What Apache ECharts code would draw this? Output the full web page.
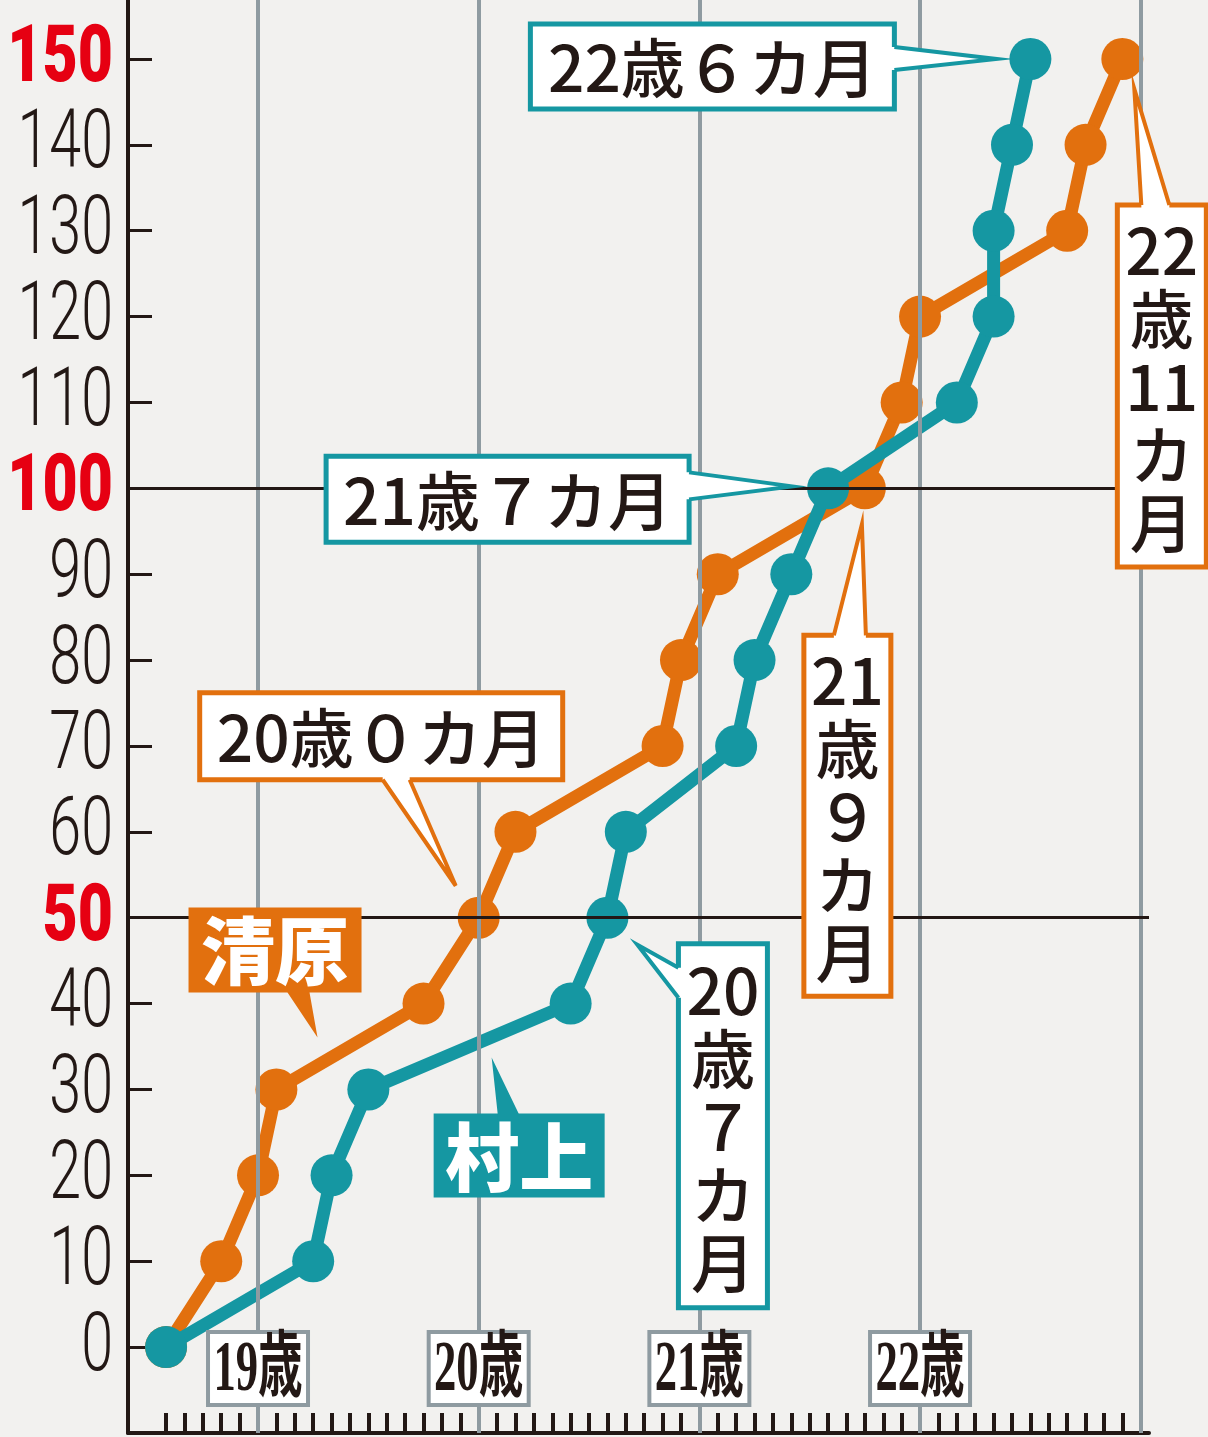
<!DOCTYPE html>
<html>
<head>
<meta charset="utf-8">
<script src="https://cdn.jsdelivr.net/npm/echarts@6/dist/echarts.min.js"></script>
<style>
html,body{margin:0;padding:0;background:#f2f1ef;}
#c{width:1208px;height:1437px;}
</style>
</head>
<body>
<div id="c"></div>
<script>
// ---- data (x = age in months, y = career home runs) ----
const kiyoharaMonths = [223, 226, 228, 229, 237, 240, 242, 250, 251, 253, 261, 263, 264, 272, 273, 275];
const kiyoharaHR     = [0, 10, 20, 30, 40, 50, 60, 70, 80, 90, 100, 110, 120, 130, 140, 150];
const murakamiMonths = [223, 231, 232, 234, 245, 247, 248, 254, 255, 257, 259, 266, 268, 268, 269, 270];
const murakamiHR     = [0, 10, 20, 30, 40, 50, 60, 70, 80, 90, 100, 110, 120, 130, 140, 150];
const seriesNames = ['清原', '村上'];

const yearMonths = [228, 240, 252, 264, 276];
const yearLabels = ['19歳', '20歳', '21歳', '22歳'];
const yTickValues = [0, 10, 20, 30, 40, 50, 60, 70, 80, 90, 100, 110, 120, 130, 140, 150];
const yRedTicks = [50, 100, 150];
const yRefLines = [50, 100];

const calloutTexts = ['20歳０カ月', '21歳７カ月', '22歳６カ月', '21\n歳\n９\nカ\n月', '20\n歳\n７\nカ\n月', '22\n歳\n11\nカ\n月'];

// ---- styling / layout ----
const ORANGE = '#e2700e';
const TEAL = '#1597a2';
const INK = '#231815';
const GRID_GRAY = '#8f9ba1';
const X_MIN = 220.93, X_MAX = 276.45;
const Y_MIN = -10, Y_MAX = 156.87;

// month ticks (every month from first point to last, excluding year marks)
const monthTicks = [];
for (let m = kiyoharaMonths[0]; m <= kiyoharaMonths[kiyoharaMonths.length - 1]; m++) {
  if (yearMonths.indexOf(m) < 0) monthTicks.push(m);
}

const zip = (xs, ys) => xs.map((x, i) => [x, ys[i]]);

const option = {
  backgroundColor: '#f2f1ef',
  animation: false,
  grid: { left: 128, right: 59, top: 0, bottom: 4, containLabel: false },
  xAxis: {
    type: 'value', min: X_MIN, max: X_MAX,
    axisLine: { show: true, onZero: false, lineStyle: { color: INK, width: 4 } },
    axisTick: { show: true, inside: true, length: 20, customValues: monthTicks, lineStyle: { color: INK, width: 4 } },
    axisLabel: { show: false },
    splitLine: { show: false }
  },
  yAxis: {
    type: 'value', min: Y_MIN, max: Y_MAX,
    axisLine: { show: true, onZero: false, lineStyle: { color: INK, width: 4 } },
    axisTick: { show: true, inside: true, length: 24, customValues: yTickValues, lineStyle: { color: INK, width: 3 } },
    axisLabel: { show: false },
    splitLine: { show: false }
  },
  series: [
    {
      type: 'line', name: 'grid', z: 1, silent: true,
      data: [[X_MIN, Y_MIN]], symbol: 'none', lineStyle: { opacity: 0 },
      markLine: {
        silent: true, symbol: ['none', 'none'], animation: false,
        label: { show: false },
        data: yearMonths.map(m => ({ xAxis: m, lineStyle: { color: GRID_GRAY, width: 4, type: 'solid' } }))
          .concat(yRefLines.map(v => ({ yAxis: v, lineStyle: { color: INK, width: 3, type: 'solid' } })))
      }
    },
    {
      type: 'line', name: seriesNames[0], z: 3,
      data: zip(kiyoharaMonths, kiyoharaHR),
      symbol: 'circle', symbolSize: 42,
      lineStyle: { color: ORANGE, width: 13 },
      itemStyle: { color: ORANGE }
    },
    {
      type: 'line', name: seriesNames[1], z: 4,
      data: zip(murakamiMonths, murakamiHR),
      symbol: 'circle', symbolSize: 42,
      lineStyle: { color: TEAL, width: 13 },
      itemStyle: { color: TEAL }
    }
  ]
};

const chart = echarts.init(document.getElementById('c'));
chart.setOption(option);

const px = (x, y) => chart.convertToPixel({ gridIndex: 0 }, [x, y]);
const g = [];

// y-axis labels
yTickValues.forEach(v => {
  const p = px(X_MIN, v);
  const red = yRedTicks.indexOf(v) >= 0;
  g.push({
    type: 'text', x: p[0] - 15, y: p[1] + 2, scaleX: red ? 0.76 : 0.7, z: 100,
    style: {
      text: String(v), fill: red ? '#e60012' : INK,
      fontFamily: 'Roboto', fontWeight: red ? 900 : 300, fontSize: red ? 80 : 82,
      align: 'right', verticalAlign: 'middle'
    }
  });
});

// year labels on x axis
yearLabels.forEach((lab, i) => {
  const p = px(yearMonths[i], Y_MIN);
  g.push({
    type: 'group', x: p[0], y: p[1] - 64, z: 100,
    children: [
      { type: 'rect', z: 100, shape: { x: -50, y: -37, width: 100, height: 73 }, style: { fill: '#ffffff', stroke: GRID_GRAY, lineWidth: 4 } },
      { type: 'text', z: 101, x: 0, y: 2, scaleX: 0.62,
        style: { text: lab, fill: INK, fontFamily: "'Liberation Serif','Noto Sans CJK JP'", fontWeight: 'bold', fontSize: 72, align: 'center', verticalAlign: 'middle' } }
    ]
  });
});

// callouts: anchor = data point, box = [left, top, w, h] relative, pointer base/tip relative
const inwardOf = { bottom: [0, -1], top: [0, 1], left: [1, 0], right: [-1, 0] };
function addCallout(c) {
  const a = px(c.xs[c.i], c.ys[c.i]);
  const d = inwardOf[c.side].map(k => k * 6);
  const b1 = c.base[0], b2 = c.base[1];
  const children = [
    { type: 'rect', z: 100, shape: { x: c.box[0], y: c.box[1], width: c.box[2], height: c.box[3] },
      style: c.filled ? { fill: c.color } : { fill: '#ffffff', stroke: c.color, lineWidth: 5 } },
    { type: 'polygon', z: 101, shape: { points: [[b1[0] + d[0], b1[1] + d[1]], b1, c.tip, b2, [b2[0] + d[0], b2[1] + d[1]]] },
      style: { fill: c.filled ? c.color : '#ffffff' } }
  ];
  if (!c.filled) {
    children.push({ type: 'polyline', z: 102, shape: { points: [b1, c.tip, b2] },
      style: { stroke: c.color, lineWidth: 4, fill: null, lineJoin: 'miter' } });
  }
  children.push({
    type: 'text', z: 103, x: c.box[0] + c.box[2] / 2, y: c.box[1] + c.box[3] / 2 + 1,
    style: {
      text: c.text, fill: c.filled ? '#ffffff' : INK,
      fontFamily: "'Noto Sans CJK JP'", fontWeight: c.weight || 500, fontSize: c.size || 64,
      lineHeight: 68, align: 'center', verticalAlign: 'middle'
    }
  });
  g.push({ type: 'group', x: a[0], y: a[1], z: 100, children });
}

addCallout({ xs: kiyoharaMonths, ys: kiyoharaHR, i: 5, text: calloutTexts[0], color: ORANGE, side: 'bottom',
  box: [-279, -225, 363, 87], base: [[-96, -138], [-69, -138]], tip: [-23, -32] });
addCallout({ xs: murakamiMonths, ys: murakamiHR, i: 10, text: calloutTexts[1], color: TEAL, side: 'right',
  box: [-502, -32, 363, 86], base: [[-139, -16], [-139, 11]], tip: [-36, -2] });
addCallout({ xs: murakamiMonths, ys: murakamiHR, i: 15, text: calloutTexts[2], color: TEAL, side: 'right',
  box: [-500, -35, 364, 85], base: [[-136, -12], [-136, 11]], tip: [-34, 0] });
addCallout({ xs: kiyoharaMonths, ys: kiyoharaHR, i: 10, text: calloutTexts[3], color: ORANGE, side: 'top',
  box: [-61, 147, 87, 361], base: [[-31, 147], [1, 147]], tip: [-3, 36] });
addCallout({ xs: murakamiMonths, ys: murakamiHR, i: 5, text: calloutTexts[4], color: TEAL, side: 'left',
  box: [71, 26, 89, 364], base: [[71, 50], [71, 80]], tip: [30, 27] });
addCallout({ xs: kiyoharaMonths, ys: kiyoharaHR, i: 15, text: calloutTexts[5], color: ORANGE, side: 'top',
  box: [-5, 146, 89, 362], base: [[19, 146], [47, 146]], tip: [12, 30] });

// series name labels
addCallout({ xs: kiyoharaMonths, ys: kiyoharaHR, i: 4, text: seriesNames[0], color: ORANGE, side: 'bottom', filled: true,
  size: 74, weight: 900, box: [-235, -96, 173, 85], base: [[-136, -11], [-114, -11]], tip: [-106, 34] });
addCallout({ xs: murakamiMonths, ys: murakamiHR, i: 4, text: seriesNames[1], color: TEAL, side: 'top', filled: true,
  size: 74, weight: 900, box: [-137, 110, 171, 84], base: [[-73, 110], [-52, 110]], tip: [-79, 54] });

chart.setOption({ graphic: { elements: g } });
</script>
</body>
</html>
